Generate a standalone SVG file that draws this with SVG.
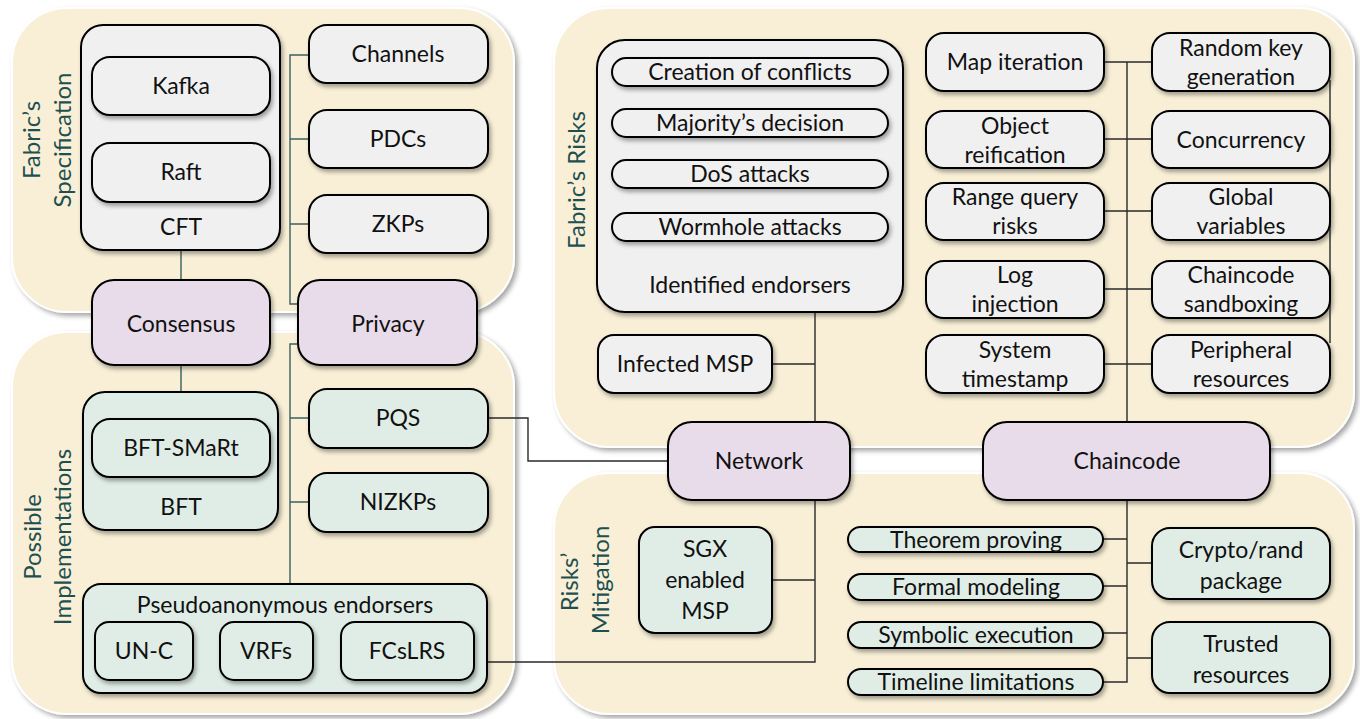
<svg xmlns="http://www.w3.org/2000/svg" width="1360" height="719" viewBox="0 0 1360 719">
<defs>
<filter id="sh" x="-20%" y="-20%" width="140%" height="150%"><feDropShadow dx="2" dy="3" stdDeviation="2" flood-color="#000" flood-opacity="0.35"/></filter>
<filter id="psh" x="-5%" y="-5%" width="110%" height="112%"><feDropShadow dx="3" dy="3" stdDeviation="2.5" flood-color="#000" flood-opacity="0.35"/></filter>
<style>
.panel{fill:#f8efd6;stroke:#ffffff;stroke-width:2;filter:url(#psh)}
.g{fill:#f0f0f0;stroke:#000;stroke-width:2;filter:url(#sh)}
.m{fill:#e0ede6;stroke:#000;stroke-width:2;filter:url(#sh)}
.p{fill:#e8dcea;stroke:#000;stroke-width:2;filter:url(#sh)}
text{font-family:Lato,"Liberation Sans",sans-serif;font-size:23px;fill:#111;text-anchor:middle}
.t{fill:#1e5052;font-size:24px}
.cl{fill:none;stroke:#3a6060;stroke-width:1.4}
.cd{fill:none;stroke:#2a2a2a;stroke-width:1.4}
</style>
</defs>
<g id="panels">
<rect class="panel" x="12" y="8" width="502" height="304" rx="55"/>
<rect class="panel" x="12" y="332" width="502" height="382" rx="55"/>
<rect class="panel" x="554" y="8" width="800" height="439" rx="55"/>
<rect class="panel" x="554" y="473" width="800" height="241" rx="55"/>
<text class="t" transform="translate(40,140) rotate(-90)">Fabric’s</text>
<text class="t" transform="translate(71,140) rotate(-90)">Specification</text>
<text class="t" transform="translate(41,537) rotate(-90)">Possible</text>
<text class="t" transform="translate(71,537) rotate(-90)">Implementations</text>
<text class="t" transform="translate(585,180) rotate(-90)">Fabric’s Risks</text>
<text class="t" transform="translate(578,582) rotate(-90)">Risks’</text>
<text class="t" transform="translate(609,580) rotate(-90)">Mitigation</text>
</g>
<g id="connectors">
<path class="cl" d="M181 250V280M181 365V392"/>
<path class="cl" d="M309 55H290V304H298M290 139H309M290 224H309"/>
<path class="cl" d="M298 344H290V584M290 418H309M290 502H309"/>
<path class="cd" d="M488 418H528V461H668"/>
<path class="cd" d="M815 312V422M772 364H815"/>
<path class="cd" d="M487 662H815V500M772 580H815"/>
<path class="cd" d="M1127 62V422M1104 62H1152M1104 139H1152M1104 211H1152M1104 289H1152M1104 364H1152M1330 80V343"/>
<path class="cd" d="M1127 500V682H1103M1103 539H1127M1103 586H1127M1103 633H1127M1127 563H1152M1127 658H1152"/>
</g>
<g id="cft"><rect class="g" x="81" y="25" width="199" height="225" rx="22"/><text x="181" y="235">CFT</text></g>
<g id="kafka"><rect class="g" x="92" y="57" width="178" height="58" rx="18"/><text x="181" y="94">Kafka</text></g>
<g id="raft"><rect class="g" x="92" y="143" width="178" height="59" rx="18"/><text x="181" y="180">Raft</text></g>
<g id="channels"><rect class="g" x="309" y="25" width="179" height="58" rx="18"/><text x="398" y="62">Channels</text></g>
<g id="pdcs"><rect class="g" x="309" y="110" width="179" height="58" rx="18"/><text x="398" y="147">PDCs</text></g>
<g id="zkps"><rect class="g" x="309" y="195" width="179" height="58" rx="18"/><text x="398" y="232">ZKPs</text></g>
<g id="consensus"><rect class="p" x="92" y="280" width="178" height="85" rx="22"/><text x="181" y="332">Consensus</text></g>
<g id="privacy"><rect class="p" x="298" y="280" width="179" height="85" rx="22"/><text x="388" y="332">Privacy</text></g>
<g id="bft"><rect class="m" x="83" y="392" width="195" height="138" rx="22"/><text x="181" y="515">BFT</text></g>
<g id="bftsmart"><rect class="m" x="92" y="419" width="178" height="58" rx="18"/><text x="181" y="456">BFT-SMaRt</text></g>
<g id="pqs"><rect class="m" x="309" y="389" width="179" height="59" rx="18"/><text x="398" y="426">PQS</text></g>
<g id="nizkps"><rect class="m" x="309" y="473" width="179" height="59" rx="18"/><text x="398" y="510">NIZKPs</text></g>
<g id="pseudo"><rect class="m" x="83" y="584" width="404" height="109" rx="18"/><text x="285" y="613">Pseudoanonymous endorsers</text></g>
<g id="unc"><rect class="m" x="95" y="622" width="98" height="58" rx="14"/><text x="144" y="659">UN-C</text></g>
<g id="vrfs"><rect class="m" x="220" y="622" width="93" height="58" rx="14"/><text x="266" y="659">VRFs</text></g>
<g id="fcslrs"><rect class="m" x="341" y="622" width="133" height="58" rx="14"/><text x="407" y="659">FCsLRS</text></g>
<g id="identified"><rect class="g" x="597" y="40" width="306" height="272" rx="28"/><text x="750" y="293">Identified endorsers</text></g>
<g id="creation"><rect class="g" x="612" y="58" width="276" height="28" rx="14"/><text x="750" y="80">Creation of conflicts</text></g>
<g id="majority"><rect class="g" x="612" y="109" width="276" height="28" rx="14"/><text x="750" y="131">Majority’s decision</text></g>
<g id="dos"><rect class="g" x="612" y="160" width="276" height="28" rx="14"/><text x="750" y="182">DoS attacks</text></g>
<g id="wormhole"><rect class="g" x="612" y="213" width="276" height="28" rx="14"/><text x="750" y="235">Wormhole attacks</text></g>
<g id="infected"><rect class="g" x="598" y="335" width="174" height="58" rx="16"/><text x="685" y="372">Infected MSP</text></g>
<g id="network"><rect class="p" x="668" y="422" width="182" height="78" rx="24"/><text x="759" y="469">Network</text></g>
<g id="sgx"><rect class="m" x="639" y="527" width="133" height="106" rx="16"/><text x="705" y="557">SGX</text><text x="705" y="588">enabled</text><text x="705" y="619">MSP</text></g>
<g id="map"><rect class="g" x="926" y="33" width="178" height="58" rx="18"/><text x="1015" y="70">Map iteration</text></g>
<g id="object"><rect class="g" x="926" y="111" width="178" height="57" rx="18"/><text x="1015" y="134">Object</text><text x="1015" y="163">reification</text></g>
<g id="range"><rect class="g" x="926" y="183" width="178" height="57" rx="18"/><text x="1015" y="205">Range query</text><text x="1015" y="234">risks</text></g>
<g id="log"><rect class="g" x="926" y="261" width="178" height="57" rx="18"/><text x="1015" y="283">Log</text><text x="1015" y="312">injection</text></g>
<g id="system"><rect class="g" x="926" y="335" width="178" height="58" rx="18"/><text x="1015" y="358">System</text><text x="1015" y="387">timestamp</text></g>
<g id="random"><rect class="g" x="1152" y="33" width="178" height="58" rx="18"/><text x="1241" y="56">Random key</text><text x="1241" y="85">generation</text></g>
<g id="concurrency"><rect class="g" x="1152" y="111" width="178" height="57" rx="18"/><text x="1241" y="148">Concurrency</text></g>
<g id="global"><rect class="g" x="1152" y="183" width="178" height="57" rx="18"/><text x="1241" y="205">Global</text><text x="1241" y="234">variables</text></g>
<g id="sandboxing"><rect class="g" x="1152" y="261" width="178" height="57" rx="18"/><text x="1241" y="283">Chaincode</text><text x="1241" y="312">sandboxing</text></g>
<g id="peripheral"><rect class="g" x="1152" y="335" width="178" height="58" rx="18"/><text x="1241" y="358">Peripheral</text><text x="1241" y="387">resources</text></g>
<g id="chaincode"><rect class="p" x="983" y="422" width="287" height="78" rx="24"/><text x="1127" y="469">Chaincode</text></g>
<g id="theorem"><rect class="m" x="848" y="527" width="255" height="25" rx="12.5"/><text x="976" y="548">Theorem proving</text></g>
<g id="formal"><rect class="m" x="848" y="574" width="255" height="26" rx="13"/><text x="976" y="595">Formal modeling</text></g>
<g id="symbolic"><rect class="m" x="848" y="622" width="255" height="26" rx="13"/><text x="976" y="643">Symbolic execution</text></g>
<g id="timeline"><rect class="m" x="848" y="669" width="255" height="26" rx="13"/><text x="976" y="690">Timeline limitations</text></g>
<g id="crypto"><rect class="m" x="1152" y="528" width="178" height="71" rx="18"/><text x="1241" y="558">Crypto/rand</text><text x="1241" y="589">package</text></g>
<g id="trusted"><rect class="m" x="1152" y="622" width="178" height="71" rx="18"/><text x="1241" y="652">Trusted</text><text x="1241" y="683">resources</text></g>
</svg>
